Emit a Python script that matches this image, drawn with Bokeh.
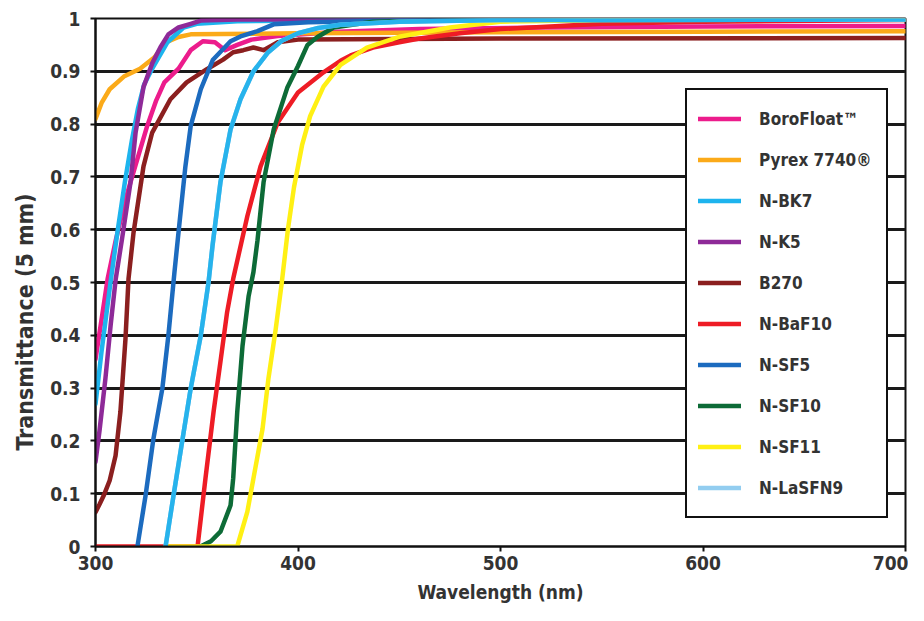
from bokeh.plotting import figure
from bokeh.models import FixedTicker, Legend, LegendItem, Title
from bokeh.embed import file_html
from bokeh.resources import INLINE

# ---------------- data ----------------
names = ["BoroFloat™", "Pyrex 7740®", "N-BK7", "N-K5", "B270",
         "N-BaF10", "N-SF5", "N-SF10", "N-SF11", "N-LaSFN9"]

borofloat_wl = [300, 303, 306, 310, 315, 320, 325.5, 330, 334, 341, 347, 353, 359, 364, 370, 377, 390, 420, 460, 520, 600, 700]
borofloat_t = [0.355, 0.43, 0.507, 0.58, 0.66, 0.725, 0.796, 0.845, 0.879, 0.905, 0.94, 0.957, 0.955, 0.94, 0.95, 0.96, 0.967, 0.975, 0.98, 0.983, 0.985, 0.986]

pyrex_wl = [300, 303, 307, 314, 322, 329, 335, 341, 347, 400, 500, 600, 700]
pyrex_t = [0.81, 0.84, 0.866, 0.89, 0.905, 0.926, 0.955, 0.965, 0.97, 0.972, 0.974, 0.975, 0.976]

bk7_wl = [300, 303, 307.4, 311, 314.5, 318, 321, 324, 328, 335.5, 343.5, 350, 370, 450, 700]
bk7_t = [0.27, 0.37, 0.5, 0.6, 0.69, 0.77, 0.83, 0.875, 0.905, 0.955, 0.983, 0.99, 0.995, 0.997, 0.998]

k5_wl = [300, 302, 304.9, 307.5, 310, 313, 317.3, 319.8, 323.7, 328, 332, 336, 341, 347, 352, 370, 700]
k5_t = [0.16, 0.22, 0.318, 0.42, 0.507, 0.58, 0.69, 0.784, 0.87, 0.915, 0.945, 0.97, 0.983, 0.99, 0.996, 0.998, 0.999]

b270_wl = [300, 302, 304, 307, 309.9, 312.3, 314.8, 316.3, 318.8, 323.7, 328, 337, 345, 355, 363, 368, 373, 378, 383, 390, 400, 500, 700]
b270_t = [0.065, 0.08, 0.096, 0.125, 0.172, 0.255, 0.393, 0.507, 0.595, 0.72, 0.784, 0.847, 0.879, 0.904, 0.922, 0.936, 0.94, 0.945, 0.94, 0.955, 0.96, 0.962, 0.963]

baf10_wl = [300, 350.4, 354.3, 358.3, 361.7, 365, 368, 375, 381.5, 390, 400, 412.6, 421, 426, 437, 450, 460, 480, 500, 550, 600, 700]
baf10_t = [0, 0, 0.129, 0.255, 0.35, 0.444, 0.507, 0.626, 0.72, 0.803, 0.86, 0.898, 0.92, 0.93, 0.945, 0.955, 0.962, 0.972, 0.98, 0.99, 0.994, 0.997]

sf5_wl = [320.7, 324.7, 328.6, 333, 336, 339, 341, 344.4, 347, 352, 358, 366.7, 371.6, 380, 388, 405, 450, 700]
sf5_t = [0, 0.096, 0.204, 0.299, 0.4, 0.52, 0.595, 0.72, 0.796, 0.866, 0.922, 0.957, 0.966, 0.976, 0.989, 0.993, 0.996, 0.998]

sf10_wl = [351.8, 357, 361.7, 366.7, 368, 370, 372.6, 375.6, 378, 380, 383, 388, 394.8, 400, 404.7, 409.6, 417.6, 437, 500, 700]
sf10_t = [0, 0.01, 0.028, 0.078, 0.129, 0.255, 0.38, 0.474, 0.52, 0.58, 0.69, 0.79, 0.87, 0.91, 0.95, 0.965, 0.983, 0.994, 0.998, 0.999]

sf11_wl = [334.6, 370, 375, 378, 382.5, 385.4, 389, 392, 395, 398, 402, 406, 412.6, 421, 434, 450.6, 475, 500, 550, 700]
sf11_t = [0, 0, 0.066, 0.129, 0.223, 0.318, 0.412, 0.5, 0.6, 0.68, 0.76, 0.815, 0.871, 0.912, 0.945, 0.966, 0.983, 0.994, 0.997, 0.998]

lasfn9_wl = [334.6, 338.5, 343, 347, 352, 355.8, 357.8, 361.7, 366.7, 371.6, 378, 385, 392, 400, 410, 421, 450, 500, 700]
lasfn9_t = [0, 0.096, 0.204, 0.299, 0.4, 0.5, 0.57, 0.69, 0.79, 0.847, 0.9, 0.935, 0.958, 0.972, 0.982, 0.988, 0.994, 0.997, 0.998]

x_ticks = [300, 400, 500, 600, 700]
y_ticks = [0, 0.1, 0.2, 0.3, 0.4, 0.5, 0.6, 0.7, 0.8, 0.9, 1]
y_tick_labels = ["0", "0.1", "0.2", "0.3", "0.4", "0.5", "0.6", "0.7", "0.8", "0.9", "1"]
x_title = "Wavelength (nm)"
y_title = "Transmittance (5 mm)"

series = [
    (borofloat_wl, borofloat_t, "#EC1C8C"),
    (pyrex_wl, pyrex_t, "#FBAA19"),
    (bk7_wl, bk7_t, "#1DB4EE"),
    (k5_wl, k5_t, "#8E2A98"),
    (b270_wl, b270_t, "#8B1F1F"),
    (baf10_wl, baf10_t, "#EE1C25"),
    (sf5_wl, sf5_t, "#1C6BBF"),
    (sf10_wl, sf10_t, "#0D6B37"),
    (sf11_wl, sf11_t, "#FFF014"),
    (lasfn9_wl, lasfn9_t, "#27B3EC"),
]
legend_colors = ["#EC1C8C", "#FBAA19", "#1DB4EE", "#8E2A98", "#8B1F1F",
                 "#EE1C25", "#1C6BBF", "#0D6B37", "#FFF014", "#92CDF0"]

FONT = "DejaVu Sans Condensed"
TXT = "#333333"

p = figure(width=908, height=605, x_range=(300, 700), y_range=(0, 1),
           output_backend="svg", toolbar_location=None,
           min_border_left=95, min_border_right=3, min_border_top=18, min_border_bottom=57)
p.background_fill_color = "white"
p.border_fill_color = "white"
p.outline_line_color = "#111111"
p.outline_line_width = 2

p.xgrid.visible = False
p.ygrid.ticker = FixedTicker(ticks=y_ticks)
p.ygrid.grid_line_color = "#1a1a1a"
p.ygrid.grid_line_width = 3

p.xaxis.ticker = FixedTicker(ticks=x_ticks)
p.yaxis.ticker = FixedTicker(ticks=y_ticks)
p.yaxis.major_label_overrides = {t: s for t, s in zip(y_ticks, y_tick_labels)}

for ax in (p.xaxis[0], p.yaxis[0]):
    ax.axis_line_color = "#111111"
    ax.axis_line_width = 2
    ax.major_tick_line_color = "#111111"
    ax.major_tick_line_width = 2
    ax.major_tick_out = 5
    ax.major_tick_in = 0
    ax.minor_tick_line_color = None
    ax.major_label_text_font = FONT
    ax.major_label_text_font_style = "bold"
    ax.major_label_text_font_size = "19px"
    ax.major_label_text_color = TXT
    ax.axis_label_text_font = FONT
    ax.axis_label_text_font_style = "bold"
    ax.axis_label_text_color = TXT

p.xaxis.axis_label = x_title
p.xaxis.axis_label_text_font_size = "19px"
p.xaxis.major_label_standoff = 4
p.xaxis.axis_label_standoff = 8
p.yaxis.major_label_standoff = 10

# y title as a side title, placed lower than the frame centre as in the original
p.add_layout(Title(text=y_title, align="left", offset=96, standoff=19,
                   text_font=FONT, text_font_style="bold", text_font_size="23px",
                   text_color=TXT), "left")

items = []
for (wl, t, col), lcol, name in zip(series, legend_colors, names):
    if lcol != col:
        r = p.line(wl, t, line_color=lcol, line_width=4.5, line_cap="round", line_join="round")
        p.line(wl, t, line_color=col, line_width=4.5, line_cap="round", line_join="round")
    else:
        r = p.line(wl, t, line_color=col, line_width=4.5, line_cap="round", line_join="round")
    items.append(LegendItem(label=name, renderers=[r]))

legend = Legend(items=items, location=(590, 28))
legend.border_line_color = "#111111"
legend.border_line_alpha = 1
legend.border_line_width = 2
legend.background_fill_color = "white"
legend.background_fill_alpha = 1
legend.padding = 11
legend.spacing = 6
legend.glyph_width = 43
legend.glyph_height = 35
legend.label_height = 35
legend.label_width = 116
legend.label_standoff = 18
legend.label_text_font = FONT
legend.label_text_font_style = "bold"
legend.label_text_font_size = "17px"
legend.label_text_color = TXT
legend.margin = 0
p.add_layout(legend)

open("out.html", "w").write(file_html(p, INLINE))
